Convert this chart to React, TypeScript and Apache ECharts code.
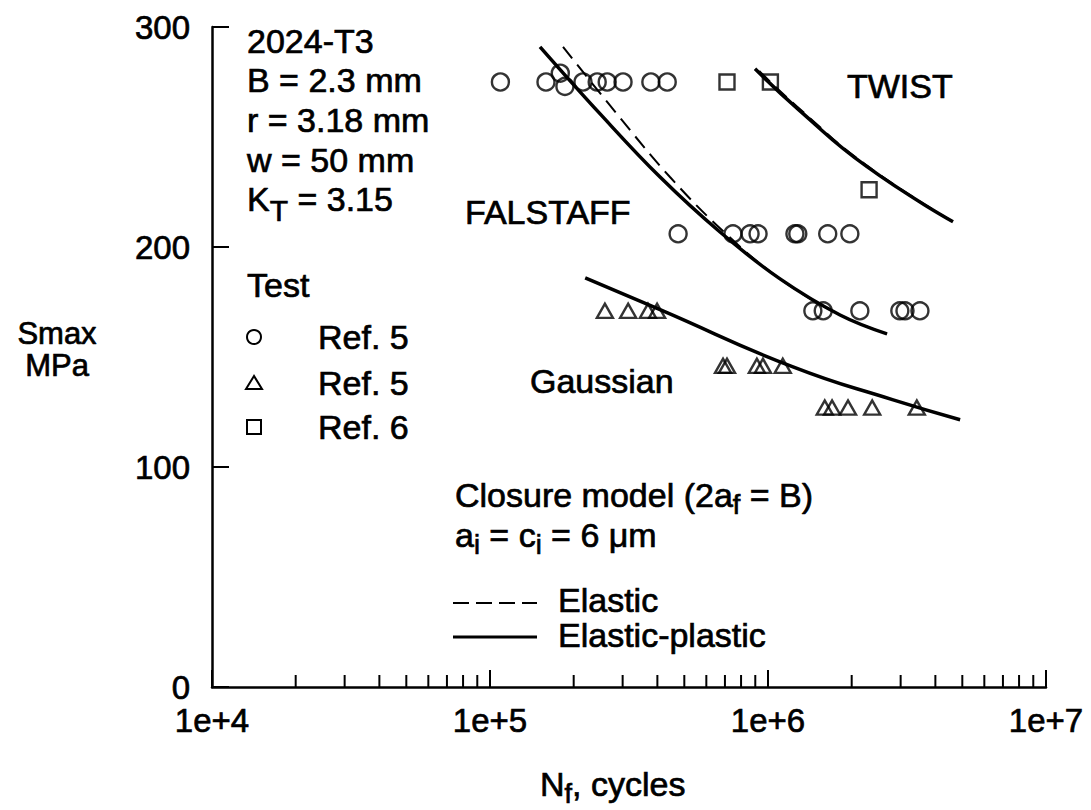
import React, { useEffect, useRef } from 'react';
import * as echarts from 'echarts';

const FONT = '"Liberation Sans", Arial, Helvetica, sans-serif';

// Test data: [Nf cycles, Smax MPa]
const circleRef5: [number, number][] = [
  [1.09e5, 275], [1.59e5, 275], [1.79e5, 279], [1.86e5, 273], [2.16e5, 275],
  [2.43e5, 275], [2.64e5, 275], [3.01e5, 275], [3.79e5, 275], [4.34e5, 275],
  [4.75e5, 206], [7.48e5, 206], [8.62e5, 206], [9.21e5, 206], [1.25e6, 206],
  [1.28e6, 206], [1.64e6, 206], [1.97e6, 206],
  [1.45e6, 171], [1.58e6, 171], [2.14e6, 171], [2.98e6, 171], [3.11e6, 171], [3.52e6, 171],
];
const triangleRef5: [number, number][] = [
  [2.59e5, 171], [3.14e5, 171], [3.70e5, 171], [3.99e5, 171],
  [6.89e5, 146], [7.12e5, 146], [9.12e5, 146], [9.59e5, 146], [1.13e6, 146],
  [1.60e6, 127], [1.70e6, 127], [1.94e6, 127], [2.37e6, 127], [3.43e6, 127],
];
const squareRef6: [number, number][] = [
  [7.12e5, 275], [1.02e6, 275], [2.31e6, 226],
];

// Closure model curves
const falstaffElasticPlastic: [number, number][] = [
  [1.513e5, 291], [2.49e5, 260.5], [4.09e5, 231.8], [6.72e5, 206.8],
  [1.105e6, 185.5], [1.816e6, 169.1], [2.68e6, 160.5],
];
const falstaffElastic: [number, number][] = [
  [1.831e5, 291], [2.86e5, 260.5], [4.44e5, 231.8], [6.95e5, 206.8],
  [1.105e6, 185.5], [1.816e6, 169.1], [2.68e6, 160.5],
];
const twistElasticPlastic: [number, number][] = [
  [8.98e5, 281], [1.30e6, 262], [2.27e6, 236.5], [4.63e6, 211.5],
];
const twistElastic: [number, number][] = [
  [9.3e5, 280], [1.32e6, 262], [2.27e6, 237], [4.63e6, 211.5],
];
const gaussianElasticPlastic: [number, number][] = [
  [2.20e5, 186], [4.09e5, 171.5], [1.23e6, 145.5], [2.82e6, 130.5], [4.91e6, 121.5],
];

// Axes
const xMin = 1e4;
const xMax = 1e7;
const yTicks = [0, 100, 200, 300];
const minorTickValues: number[] = [];
for (const d of [1e4, 1e5, 1e6]) {
  for (const k of [2, 3, 4, 5, 6, 7, 8, 9]) minorTickValues.push(k * d);
}

const STROKE = { stroke: '#000', lineWidth: 0.7 };

const RICH = {
  n: { fontSize: 34, fontFamily: FONT, fill: '#000', verticalAlign: 'middle', ...STROKE },
  s: { fontSize: 27, fontFamily: FONT, fill: '#000', padding: [20, 0, 0, 0], verticalAlign: 'middle', ...STROKE },
  t: { fontSize: 30, fontFamily: FONT, fill: '#000', padding: [22, 0, 0, 0], verticalAlign: 'middle', ...STROKE },
};

const txt = (text: string, x: number, y: number, align = 'left', extra: any = {}) => ({
  type: 'text',
  x,
  y,
  silent: true,
  style: {
    text,
    fill: '#000',
    fontSize: 34,
    fontFamily: FONT,
    align,
    verticalAlign: 'middle',
    rich: RICH,
    ...STROKE,
    ...extra,
  },
});

export default function App() {
  const ref = useRef<HTMLDivElement>(null);
  useEffect(() => {
    if (!ref.current) return;
    const chart = echarts.init(ref.current, undefined, { renderer: 'svg' });
    const hollow = {
      color: 'rgba(0,0,0,0)',
      borderColor: '#000',
      borderWidth: 2.4,
    };
    const option: any = {
      animation: false,
      backgroundColor: '#fff',
      grid: { left: 212, right: 45, top: 27, bottom: 123, containLabel: false },
      xAxis: {
        type: 'log',
        logBase: 10,
        min: xMin,
        max: xMax,
        axisLine: { show: true, onZero: false, lineStyle: { color: '#000', width: 2.5 } },
        axisTick: { show: true, inside: true, length: 17, lineStyle: { color: '#000', width: 2 } },
        axisLabel: {
          color: '#000',
          fontSize: 33,
          fontFamily: FONT,
          margin: 17,
          textBorderColor: '#000',
          textBorderWidth: 0.7,
          formatter: (v: number) => '1e+' + Math.round(Math.log10(v)),
        },
        splitLine: { show: false },
      },
      yAxis: {
        type: 'value',
        min: yTicks[0],
        max: yTicks[yTicks.length - 1],
        interval: 100,
        axisLine: { show: true, lineStyle: { color: '#000', width: 2.5 } },
        axisTick: { show: true, inside: true, length: 17, lineStyle: { color: '#000', width: 2 } },
        axisLabel: {
          color: '#000', fontSize: 33, fontFamily: FONT, margin: 22,
          textBorderColor: '#000', textBorderWidth: 0.7,
        },
        splitLine: { show: false },
      },
      series: [
        {
          type: 'custom',
          silent: true,
          clip: false,
          z: 5,
          data: minorTickValues.map((v) => [v, 0]),
          renderItem: (_p: any, api: any) => {
            const p = api.coord([api.value(0), api.value(1)]);
            return {
              type: 'line',
              shape: { x1: p[0], y1: p[1], x2: p[0], y2: p[1] - 12 },
              style: { stroke: '#000', lineWidth: 2 },
            };
          },
        },
        {
          type: 'line', data: falstaffElastic, smooth: 0.4, symbol: 'none', silent: true,
          lineStyle: { color: '#000', width: 2, type: [15, 8] },
        },
        {
          type: 'line', data: falstaffElasticPlastic, smooth: 0.4, symbol: 'none', silent: true,
          lineStyle: { color: '#000', width: 3.5 },
        },
        {
          type: 'line', data: twistElastic, smooth: true, symbol: 'none', silent: true,
          lineStyle: { color: '#000', width: 2, type: [15, 8] },
        },
        {
          type: 'line', data: twistElasticPlastic, smooth: true, symbol: 'none', silent: true,
          lineStyle: { color: '#000', width: 3.5 },
        },
        {
          type: 'line', data: gaussianElasticPlastic, smooth: true, symbol: 'none', silent: true,
          lineStyle: { color: '#000', width: 3.5 },
        },
        {
          type: 'scatter', data: circleRef5, symbol: 'circle', symbolSize: 17, itemStyle: hollow, silent: true,
        },
        {
          type: 'scatter', data: triangleRef5, symbol: 'triangle', symbolSize: [16, 14], itemStyle: hollow, silent: true,
        },
        {
          type: 'scatter', data: squareRef6, symbol: 'rect', symbolSize: 15, itemStyle: hollow, silent: true,
        },
      ],
      graphic: [
        txt('2024-T3', 247, 41),
        txt('B = 2.3 mm', 247, 80),
        txt('r = 3.18 mm', 247, 120),
        txt('w = 50 mm', 247, 160),
        txt('{n|K}{t|T}{n| = 3.15}', 247, 199),
        txt('FALSTAFF', 465, 212),
        txt('TWIST', 847, 86),
        txt('Gaussian', 530, 381),
        txt('Test', 247, 285),
        txt('Ref. 5', 318, 337),
        txt('Ref. 5', 318, 383),
        txt('Ref. 6', 318, 427),
        {
          type: 'circle', silent: true,
          shape: { cx: 254, cy: 337, r: 7 },
          style: { fill: 'none', stroke: '#000', lineWidth: 2 },
        },
        {
          type: 'polygon', silent: true,
          shape: { points: [[254, 376], [246, 389], [262, 389]] },
          style: { fill: 'none', stroke: '#000', lineWidth: 2 },
        },
        {
          type: 'rect', silent: true,
          shape: { x: 247, y: 420, width: 14, height: 14 },
          style: { fill: 'none', stroke: '#000', lineWidth: 2 },
        },
        txt('Closure model (2a{s|f} = B)', 455, 495),
        txt('a{s|i} = c{s|i} = 6 \u03bcm', 455, 535),
        {
          type: 'line', silent: true,
          shape: { x1: 453, y1: 603, x2: 537, y2: 603 },
          style: { stroke: '#000', lineWidth: 2, lineDash: [16, 7] },
        },
        txt('Elastic', 558, 600),
        {
          type: 'line', silent: true,
          shape: { x1: 453, y1: 637, x2: 537, y2: 637 },
          style: { stroke: '#000', lineWidth: 3 },
        },
        txt('Elastic-plastic', 558, 635),
        txt('Smax\nMPa', 57, 349, 'center', { fontSize: 31, lineHeight: 32 }),
        txt('N{s|f}, cycles', 540, 784),
      ],
    };
    chart.setOption(option);
    return () => chart.dispose();
  }, []);
  return (
    <div
      ref={ref}
      style={{ position: 'fixed', left: 0, top: 0, width: 1091, height: 810, background: '#fff' }}
    />
  );
}
